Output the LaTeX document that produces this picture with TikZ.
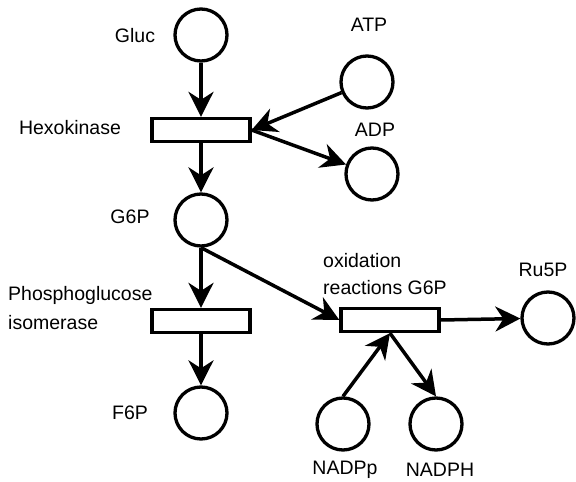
\documentclass[tikz,border=0pt]{standalone}
\usepackage{fontspec}
\setmainfont{Liberation Sans}
\usetikzlibrary{arrows.meta}
\begin{document}
\begin{tikzpicture}[x=1pt,y=-1pt,
  place/.style={circle,draw,line width=3.3pt,minimum size=52pt,inner sep=0pt},
  transition/.style={rectangle,draw,line width=3.3pt,minimum width=98pt,minimum height=23pt,inner sep=0pt},
  lbl/.style={inner sep=0pt,font=\fontsize{19.5}{23}\selectfont},
  arc/.style={line width=3.5pt,-{Stealth[length=25pt,width=25pt,inset=8pt]}}]
\useasboundingbox (0,0) rectangle (576,482);
% places
\node[place] (gluc)  at (201,35)  {};
\node[place] (atp)   at (367,82)  {};
\node[place] (adp)   at (372,174) {};
\node[place] (g6p)   at (201,220) {};
\node[place] (f6p)   at (201,413) {};
\node[place] (ru5p)  at (548,318) {};
\node[place] (nadpp) at (343,424) {};
\node[place] (nadph) at (436,424) {};
% transitions
\node[transition] (hex) at (201,130) {};
\node[transition] (pgi) at (201,321) {};
\node[transition] (ox)  at (390,320) {};
% labels
\node[lbl] (lgluc)  at (135,36)  {Gluc};
\node[lbl] (latp)   at (369,25)  {ATP};
\node[lbl] (ladp)   at (375,130) {ADP};
\node[lbl] (lhex)   at (70,128)  {Hexokinase};
\node[lbl] (lg6p)   at (130,217) {G6P};
\node[lbl,anchor=west] (lpgi1) at (8,295) {Phosphoglucose};
\node[lbl,anchor=west] (lpgi2) at (8,323) {isomerase};
\node[lbl] (lf6p)   at (130,413) {F6P};
\node[lbl,anchor=west] (lox1) at (323,261) {oxidation};
\node[lbl,anchor=west] (lox2) at (323,288) {reactions G6P};
\node[lbl] (lru5p)  at (543,270) {Ru5P};
\node[lbl] (lnadpp) at (345,470) {NADPp};
\node[lbl] (lnadph) at (440,470) {NADPH};
% arcs
\draw[arc] (gluc.south) -- (hex.north);
\draw[arc] (atp) -- (hex.east);
\draw[arc] (hex.east) -- (adp);
\draw[arc] (hex.south) -- (g6p.north);
\draw[arc] (g6p.south) -- (pgi.north);
\draw[arc] (pgi.south) -- (f6p.north);
\draw[arc] (g6p.south) -- (ox.west);
\draw[arc] (ox.east) -- (ru5p);
\draw[arc] (nadpp.north) -- (ox.south);
\draw[arc] (ox.south) -- (nadph.north);
\end{tikzpicture}
\end{document}
